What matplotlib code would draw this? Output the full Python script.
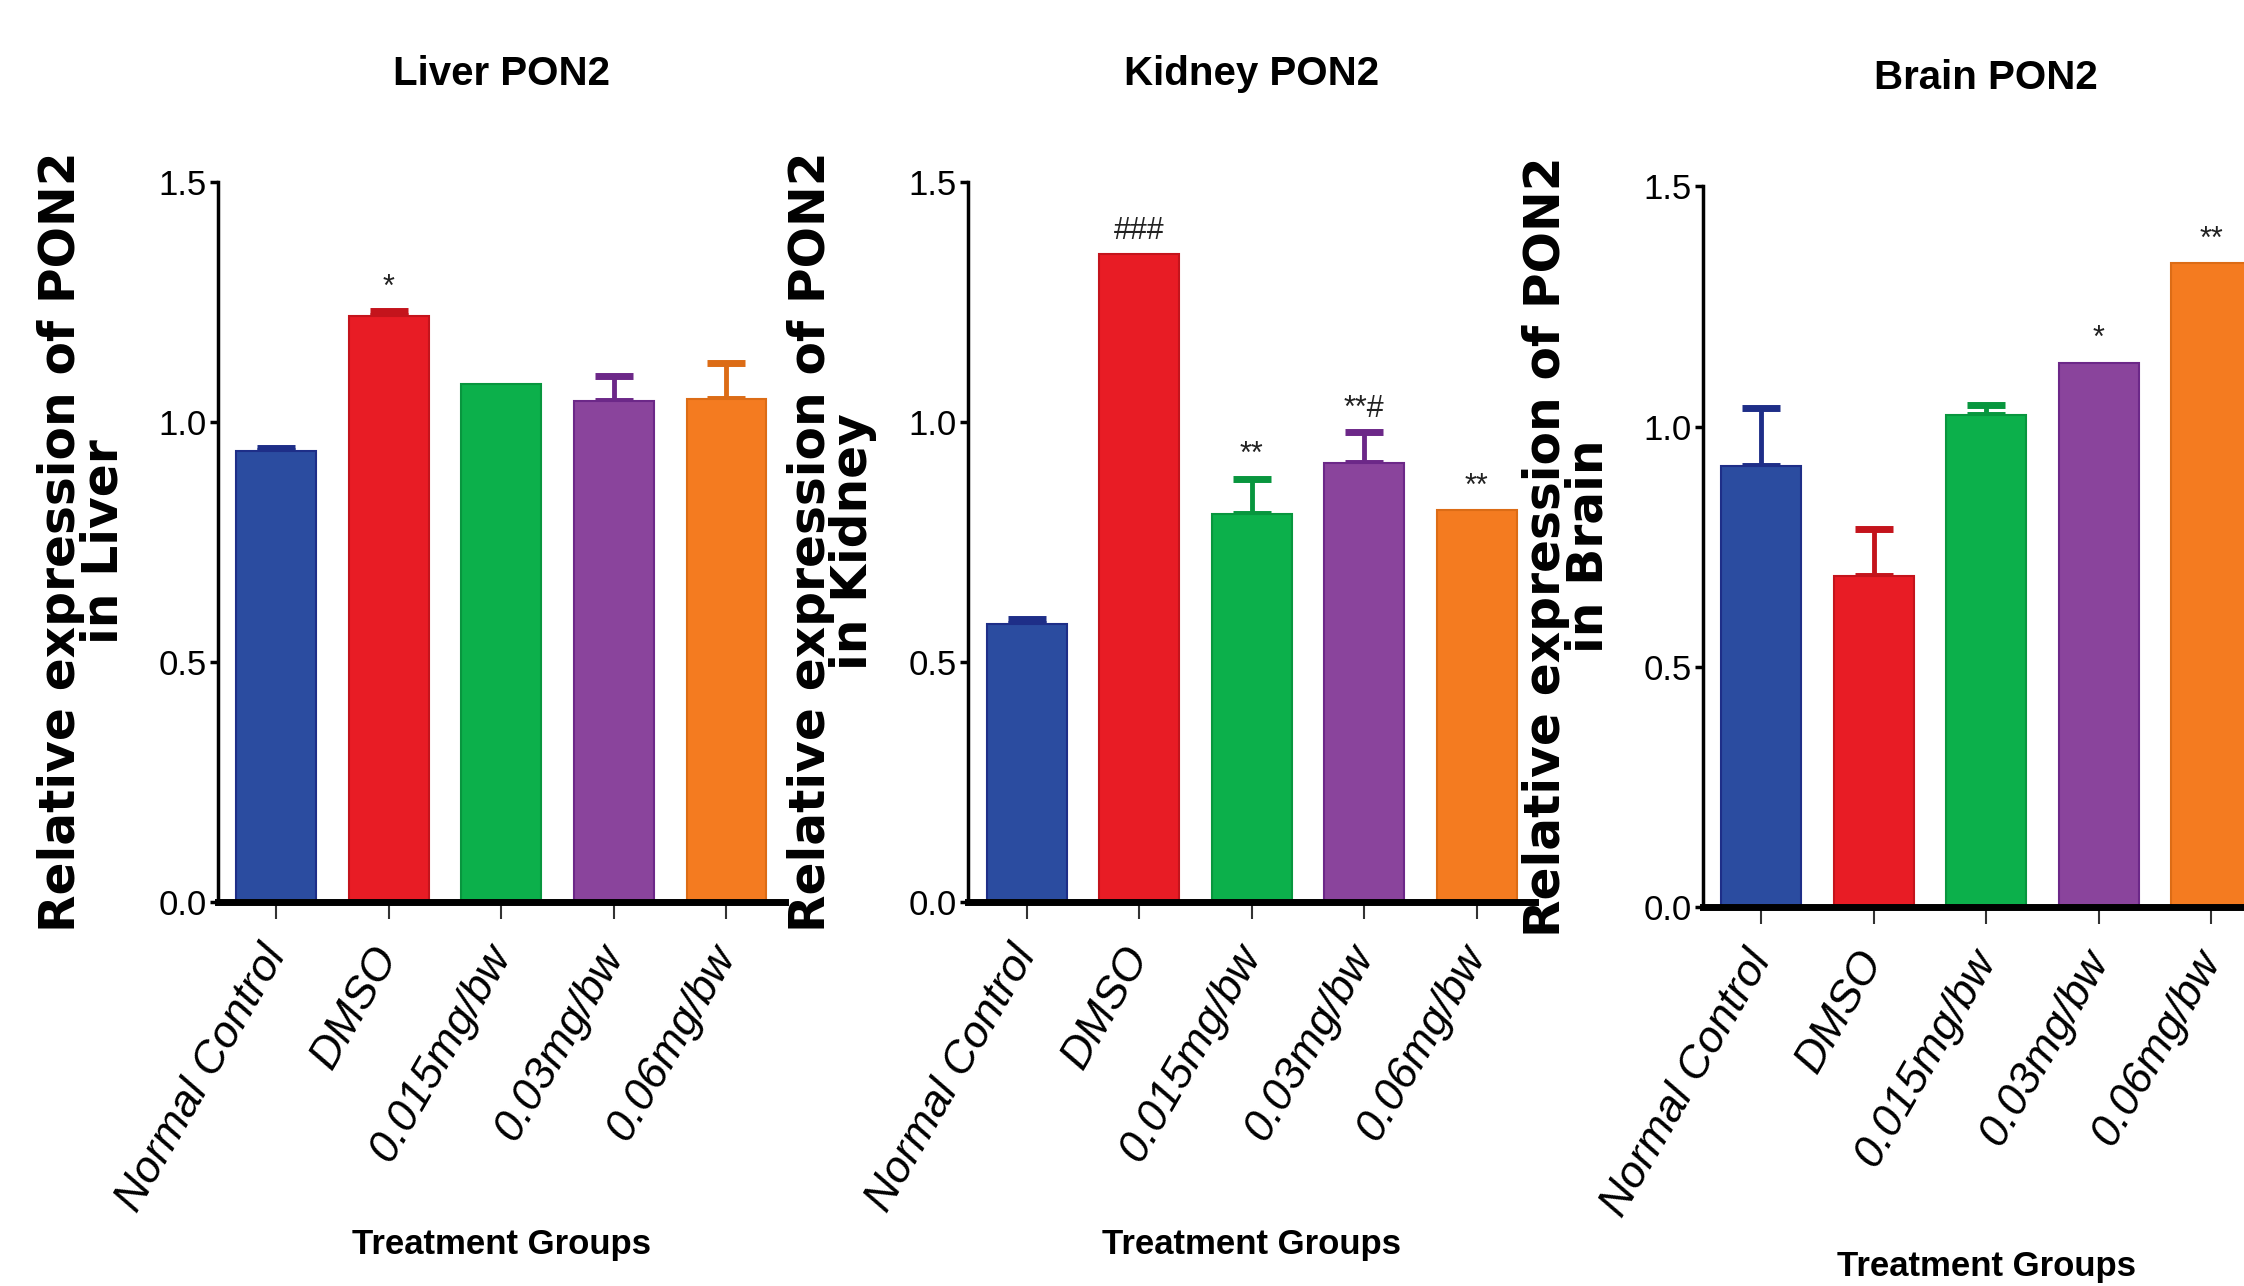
import matplotlib.pyplot as plt

groups = ["Normal Control", "DMSO", "0.015mg/bw", "0.03mg/bw", "0.06mg/bw"]
colors = ["#2B4CA0", "#E81C25", "#0CB04B", "#8A449C", "#F47B20"]
dark = ["#1E2E88", "#C4141C", "#08963E", "#6C2888", "#DC6C16"]

tissues = ["Liver", "Kidney", "Brain"]
liver_mean = [0.94, 1.22, 1.078, 1.043, 1.048]
liver_err = [0.006, 0.01, 0.0, 0.052, 0.075]
liver_sig = ["", "*", "", "", ""]
kidney_mean = [0.579, 1.35, 0.809, 0.915, 0.817]
kidney_err = [0.011, 0.0, 0.073, 0.063, 0.0]
kidney_sig = ["", "###", "**", "**#", "**"]
brain_mean = [0.918, 0.688, 1.024, 1.133, 1.34]
brain_err = [0.12, 0.098, 0.021, 0.0, 0.0]
brain_sig = ["", "", "", "*", "**"]

narrow = ["Liberation Sans Narrow", "Liberation Sans", "DejaVu Sans"]

fig = plt.figure(figsize=(22.44, 12.86), dpi=100)

panels = [
    (0.0971, 0.2986, liver_mean, liver_err, liver_sig, -0.476),
    (0.4314, 0.2986, kidney_mean, kidney_err, kidney_sig, -0.476),
    (0.7588, 0.2950, brain_mean, brain_err, brain_sig, -0.50),
]

x = range(len(groups))
for tissue, (left, bottom, mean, err, sig, xl_y) in zip(tissues, panels):
    ax = fig.add_axes([left, bottom, 0.2527, 0.560])
    ax.bar(x, mean, width=0.71, color=colors, edgecolor=dark, linewidth=1.5, zorder=2)
    for i in x:
        if err[i] > 0:
            ax.errorbar(i, mean[i], yerr=[[0], [err[i]]], fmt="none", ecolor=dark[i],
                        elinewidth=3.5, capsize=14, capthick=5, zorder=1)
        if sig[i]:
            ax.annotate(sig[i], (i, mean[i] + err[i]), xytext=(0, 6), textcoords="offset points",
                        ha="center", va="bottom", fontsize=22, family=narrow, color="#222222")

    ax.set_xlim(-0.52, 4.52)
    ax.set_ylim(0, 1.5)
    ax.set_yticks([0.0, 0.5, 1.0, 1.5])
    ax.set_yticklabels(["0.0", "0.5", "1.0", "1.5"], family=narrow, fontsize=25)
    ax.set_xticks(list(x))
    ax.set_xticklabels(groups, rotation=60, ha="right", va="center", rotation_mode="anchor",
                       fontsize=32, style="italic", family=["Liberation Sans", "DejaVu Sans"])

    for s in ["top", "right"]:
        ax.spines[s].set_visible(False)
    ax.spines["bottom"].set_linewidth(5)
    ax.spines["left"].set_linewidth(2.5)
    ax.tick_params(axis="x", direction="out", length=12, width=1.5, pad=22, color="#333333")
    ax.tick_params(axis="y", direction="out", length=6, width=2.5, pad=2)

    ax.set_title(f"{tissue} PON2", fontsize=29, fontweight="bold", family=narrow,
                 y=1.15, va="center", pad=0)
    ax.set_ylabel(f"Relative expression of PON2\nin {tissue}", fontsize=35,
                  fontweight="bold", family="DejaVu Sans", linespacing=0.85)
    ax.yaxis.set_label_coords(-0.16, 0.5)
    ax.set_xlabel("Treatment Groups", fontsize=25, fontweight="bold", family=narrow, va="center")
    ax.xaxis.set_label_coords(0.5, xl_y)

fig.savefig("out.png", dpi=100)
